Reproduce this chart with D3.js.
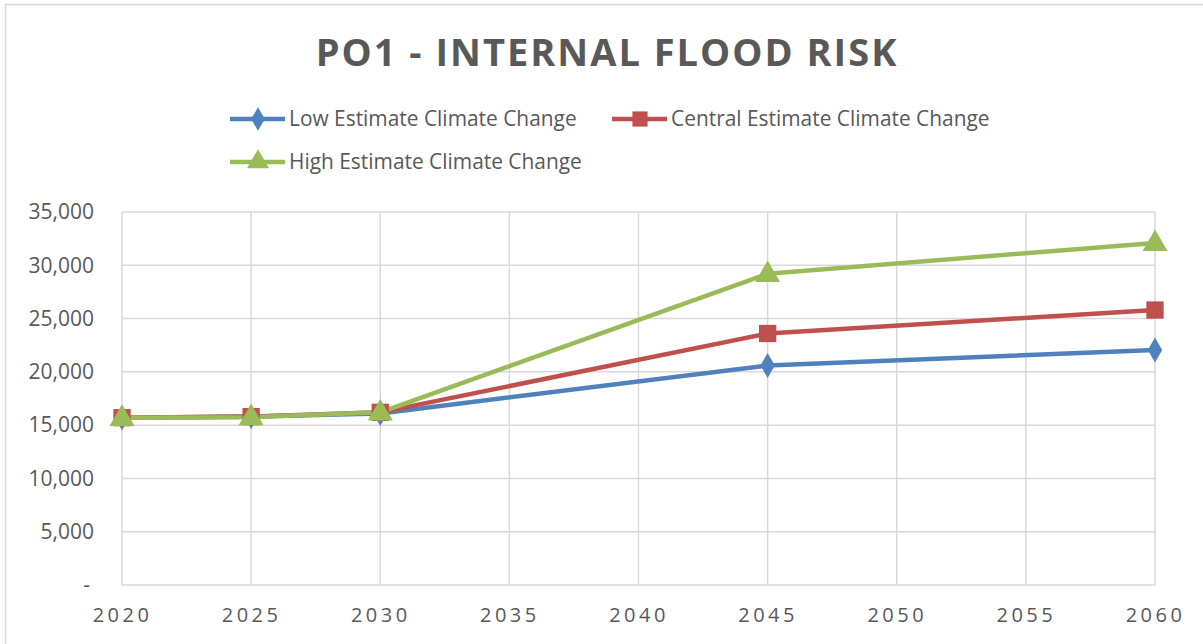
<!DOCTYPE html>
<html><head><meta charset="utf-8">
<script src="https://cdn.jsdelivr.net/npm/d3@7"></script>
<style>body{margin:0;background:#fff;font-family:"Open Sans","Liberation Sans",sans-serif;}</style>
</head><body>
<svg id="c" width="1203" height="644"></svg>
<script>
const years = [2020, 2025, 2030, 2045, 2060];
const lowValues = [15700, 15800, 16100, 20600, 22050];
const centralValues = [15700, 15800, 16200, 23600, 25800];
const highValues = [15700, 15750, 16200, 29200, 32100];
const seriesNames = ["Low Estimate Climate Change", "Central Estimate Climate Change", "High Estimate Climate Change"];
const xTicks = [2020, 2025, 2030, 2035, 2040, 2045, 2050, 2055, 2060];
const yTicks = [0, 5000, 10000, 15000, 20000, 25000, 30000, 35000];
const title = "PO1 - INTERNAL FLOOD RISK";

const colors = ["#4f81bd", "#c0504d", "#9bbb59"];
const symbols = [d3.symbolDiamond, d3.symbolSquare, d3.symbolTriangle];
const series = [lowValues, centralValues, highValues];

const svg = d3.select("#c");
svg.append("rect").attr("x",5.5).attr("y",4.5).attr("width",1210).attr("height",660)
  .attr("fill","#fff").attr("stroke","#d9d9d9").attr("stroke-width",1.5);

const x = d3.scaleLinear().domain([2020,2060]).range([122,1155]);
const y = d3.scaleLinear().domain([0,35000]).range([585,212]);

// grid
svg.append("g").selectAll("line").data(yTicks).join("line")
  .attr("x1",x(2020)).attr("x2",x(2060)).attr("y1",d=>y(d)).attr("y2",d=>y(d))
  .attr("stroke","#d9d9d9").attr("stroke-width",1.5);
svg.append("g").selectAll("line").data(xTicks).join("line")
  .attr("x1",d=>x(d)).attr("x2",d=>x(d)).attr("y1",y(0)).attr("y2",y(35000))
  .attr("stroke","#d9d9d9").attr("stroke-width",1.5);

// axes
const fmt = d3.format(",");
const ya = svg.append("g").attr("transform",`translate(${x(2020)},0)`)
  .call(d3.axisLeft(y).tickValues(yTicks).tickSize(0).tickPadding(28).tickFormat(d=>d===0?"-":fmt(d)));
ya.select(".domain").remove();
ya.selectAll("text").attr("font-size",21).attr("fill","#595959").attr("font-family","Open Sans, sans-serif");
ya.selectAll(".tick").filter(d=>d===0).select("text").attr("dx",-4);

const xa = svg.append("g").attr("transform",`translate(0,${y(0)})`)
  .call(d3.axisBottom(x).tickValues(xTicks).tickSize(0).tickPadding(23).tickFormat(d3.format("d")));
xa.select(".domain").remove();
xa.selectAll("text").attr("font-size",20).attr("fill","#595959").attr("letter-spacing","3.5px")
  .attr("font-family","Open Sans, sans-serif");

// lines
const line = d3.line().x((d,i)=>x(years[i])).y(d=>y(d));
series.forEach((s,k)=>{
  svg.append("path").datum(s).attr("d",line).attr("fill","none")
    .attr("stroke",colors[k]).attr("stroke-width",4.5).attr("stroke-linejoin","round");
});
series.forEach((s,k)=>{
  const sz = k===0?180:(k===1?300:270);
  svg.append("g").selectAll("path").data(s).join("path")
    .attr("transform",(d,i)=>`translate(${x(years[i])},${y(d)+(k===2?1:0)})`)
    .attr("d",d3.symbol().type(symbols[k]).size(sz)).attr("fill",colors[k]);
});

// title
svg.append("text").attr("x",607).attr("y",66).attr("text-anchor","middle")
  .attr("font-size",38).attr("font-weight","bold").attr("letter-spacing","2px")
  .attr("fill","#595959").attr("font-family","Open Sans, sans-serif").text(title);

// legend
const legendPos = [[230,119],[612,119],[230,162]];
seriesNames.forEach((n,k)=>{
  const [lx,ly] = legendPos[k];
  const g = svg.append("g");
  g.append("line").attr("x1",lx).attr("x2",lx+55).attr("y1",ly).attr("y2",ly)
    .attr("stroke",colors[k]).attr("stroke-width",4.5);
  g.append("path").attr("transform",`translate(${lx+28},${ly})`)
    .attr("d",d3.symbol().type(symbols[k]).size(k===0?160:(k===1?230:210))).attr("fill",colors[k]);
  g.append("text").attr("x",lx+59).attr("y",ly+7).attr("font-size",20.9).attr("fill","#595959")
    .attr("font-family","Open Sans, sans-serif").text(n);
});
</script>
</body></html>
